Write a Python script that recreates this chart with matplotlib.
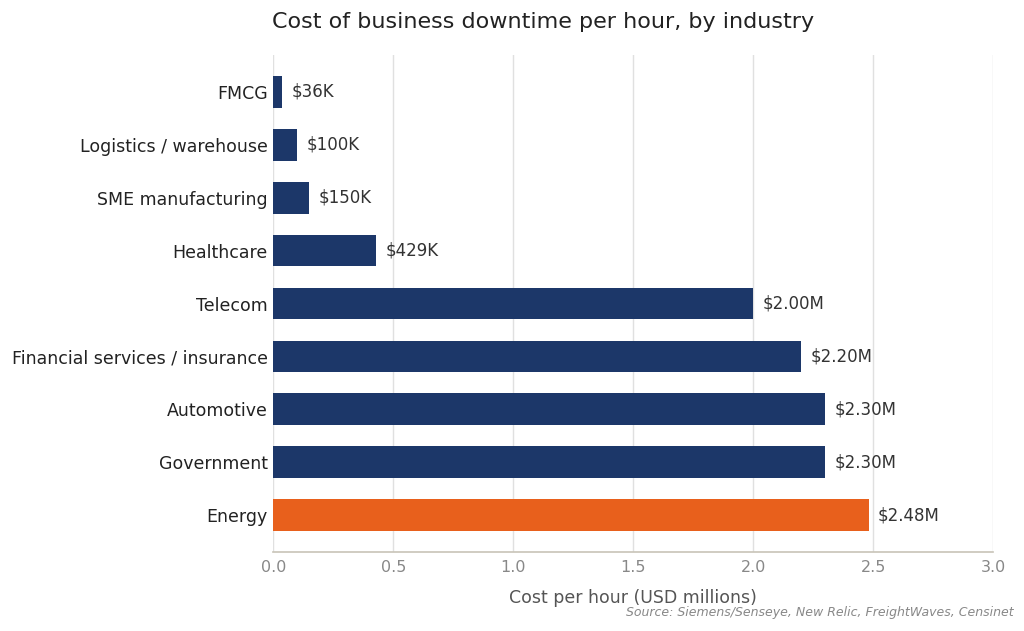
import numpy as np
import matplotlib.pyplot as plt

industries = ['FMCG', 'Logistics / warehouse', 'SME manufacturing', 'Healthcare',
              'Telecom', 'Financial services / insurance', 'Automotive',
              'Government', 'Energy']
cost = [0.036, 0.100, 0.150, 0.429, 2.00, 2.20, 2.30, 2.30, 2.48]
labels = ['$36K', '$100K', '$150K', '$429K', '$2.00M', '$2.20M', '$2.30M', '$2.30M', '$2.48M']

navy = '#1c3769'
orange = '#e8601c'
colors = [navy] * (len(industries) - 1) + [orange]

fig = plt.figure(figsize=(10.24, 6.31), dpi=100)
ax = fig.add_axes([0.267, 0.125, 0.703, 0.788])

y = np.arange(len(industries))
ax.barh(y, cost, height=0.6, color=colors, zorder=3)
for yi, v, lab in zip(y, cost, labels):
    ax.text(v + 0.04, yi, lab, va='center', ha='left', fontsize=12, color='#333333')

ax.set_yticks(y)
ax.set_yticklabels(industries, fontsize=12.5, color='#222222')
ax.set_ylim(8.7, -0.7)
ax.set_xlim(0, 3.0)
ax.set_xticks(np.arange(0, 3.01, 0.5))
ax.set_xticklabels([f'{t:.1f}' for t in np.arange(0, 3.01, 0.5)], fontsize=11.5, color='#888888')
ax.tick_params(axis='x', length=0, pad=6)
ax.tick_params(axis='y', length=0, pad=4)
ax.xaxis.grid(True, color='#e0e0e0', linewidth=1, zorder=0)
for s in ['top', 'right', 'left']:
    ax.spines[s].set_visible(False)
ax.spines['bottom'].set_color('#c8c4b8')
ax.spines['bottom'].set_linewidth(1.2)

ax.set_xlabel('Cost per hour (USD millions)', fontsize=12.5, color='#555555', labelpad=10)
fig.text(0.53, 0.965, 'Cost of business downtime per hour, by industry', ha='center', va='center',
         fontsize=16, color='#222222')
fig.text(0.99, 0.029, 'Source: Siemens/Senseye, New Relic, FreightWaves, Censinet', ha='right',
         va='center', fontsize=9, style='italic', color='#888888')

fig.savefig('out.png', dpi=100)
